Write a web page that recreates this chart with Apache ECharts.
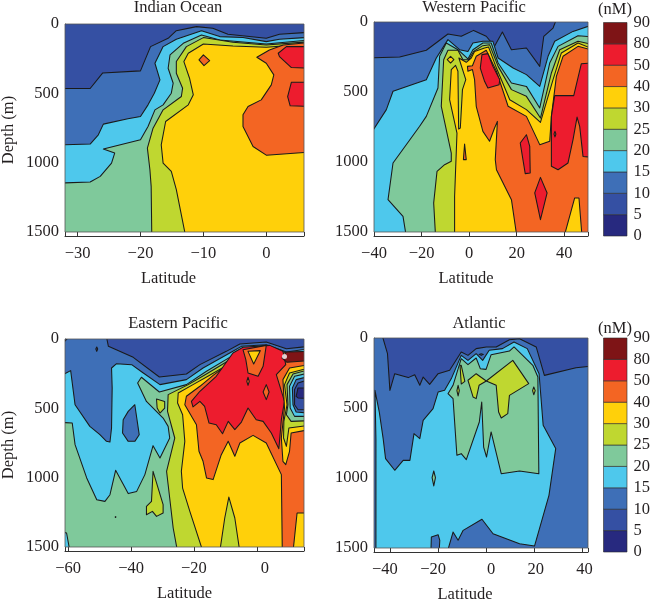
<!DOCTYPE html>
<html><head><meta charset="utf-8">
<style>html,body{margin:0;padding:0;background:#fff}#c{width:650px;height:600px}</style>
<script src="https://cdn.jsdelivr.net/npm/echarts@6/dist/echarts.min.js"></script>
</head><body><div id="c"></div>
<script>
// Band colours (lowest to highest) and colour-bar labels
const bandColors = ['#27297f','#3550a3','#3e6fb7','#4ec8ec','#7fc99b','#bfd730','#ffd00a','#f36523','#ed1c2e','#7e1416'];
const levelLabels = ['0','5','10','15','20','25','30','40','50','80','90'];
const panelTitles = ['Indian Ocean','Western Pacific','Eastern Pacific','Atlantic'];
const latTicks = [[-30,-20,-10,0],[-40,-20,0,20,40],[-60,-40,-20,0],[-40,-20,0,20,40]];
const depthTicks = [0,500,1000,1500];

// ---- Indian Ocean: contour regions [latitude, depth]
const ioBlue=[[-32,465],[-28,465],[-26,353],[-20,338],[-18.4,163],[-15.6,103],[-14.3,48],[-11.1,19],[-8.5,31],[-6.1,74],[0,103],[2.1,74],[6,60],[6,1500],[-32,1500]];
const ioCyan=[[-32,871],[-28,866],[-26.7,799],[-25.9,722],[-22,684],[-20,667],[-18.8,583],[-17.8,499],[-16.9,403],[-17.7,283],[-16.4,163],[-14.3,110],[-10.3,48],[-7.4,91],[-3.7,98],[0,127],[2.1,110],[6,96],[6,1500],[-32,1500]];
const ioGreen=[[-32,1147],[-28,1140],[-26.4,1099],[-24.6,1003],[-24.1,931],[-25.9,902],[-24.3,883],[-20,835],[-18.8,739],[-17.7,619],[-16.4,583],[-15.1,499],[-14.8,427],[-15.6,319],[-15.3,223],[-13.2,139],[-10.3,79],[-7.4,115],[0,144],[6,115],[6,1500],[-32,1500]];
const ioLime=[[-18.2,1500],[-18.3,1171],[-18.5,1051],[-18.9,895],[-18,751],[-16.4,619],[-13.5,523],[-13.3,463],[-14.3,355],[-14.3,271],[-12.7,163],[-10,98],[-5.3,132],[0,151],[6,128],[6,1500]];
const ioYellow=[[-12.8,1500],[-14.3,1195],[-15.1,1063],[-16.4,1003],[-16.7,871],[-16,703],[-12.4,583],[-11.6,511],[-12.2,391],[-13.1,271],[-12.4,211],[-10,144],[-5.3,158],[0,168],[6,144],[6,1500]];
const ioOrange=[[6,924],[0,946],[-2.1,883],[-3.7,739],[-3.7,655],[-2.9,595],[-0.8,547],[0.8,439],[1.2,367],[0,283],[-1.5,240],[0.5,187],[2.7,151],[6,134]];
const ioOrangeSpot=[[-10,223],[-9,264],[-9.9,300],[-10.7,259]];
const ioRedTop=[[6,163],[3.2,163],[1.9,211],[2.1,235],[4,314],[6,319]];
const ioRedLow=[[6,420],[4,420],[3.4,523],[3.8,590],[6,595]];

// ---- Western Pacific
const wpBlue=[[-40,257],[-29.2,250],[-18,202],[-8.9,86],[-3.3,102],[1.9,60],[7.2,102],[10.7,174],[14,71],[17.8,198],[24.1,186],[29.7,317],[31.4,102],[35.3,43],[37.1,0],[50,0],[50,1500],[-40,1500]];
const wpCyan=[[-40,817],[-34.8,626],[-32,495],[-18,412],[-13.8,257],[-8.9,126],[-4,198],[-0.5,210],[1.6,150],[5.8,138],[10,138],[12.2,257],[18.5,329],[24.1,376],[29.7,460],[33.2,245],[36,138],[43.7,67],[50,19],[50,1500],[-40,1500]];
const wpGreen=[[-26.4,1500],[-27.8,1388],[-34.1,1269],[-32,1007],[-20.8,745],[-18,674],[-13.1,471],[-12.4,245],[-9.6,150],[-4.7,198],[-0.5,264],[1.6,198],[5.8,150],[9.3,150],[12.2,293],[17.8,436],[24.1,460],[29.7,614],[33.9,293],[37.4,174],[45.8,98],[50,107],[50,1500]];
const wpLime=[[-14.1,1500],[-14.9,1293],[-13.5,1067],[-10.3,1019],[-7.5,995],[-7.5,936],[-11.7,602],[-10.7,269],[-8.9,202],[-4.7,202],[-2.6,269],[-0.2,269],[1.9,210],[5.8,169],[8.6,162],[12.2,317],[17.8,483],[24.1,531],[30,686],[34.6,364],[38.1,198],[45.8,138],[50,162],[50,1500]];
const wpYellow=[[-6.1,1500],[-6.1,1245],[-5.1,793],[-8.2,555],[-7.5,340],[-5.7,310],[-4.7,352],[-4.4,764],[-3.7,757],[-2.8,483],[-1.4,412],[-4.3,257],[-1.2,288],[0.9,257],[2.3,210],[6.5,186],[8.2,179],[11.5,329],[17.1,555],[24.1,626],[30,717],[35.3,412],[38.8,221],[45.8,150],[50,193],[50,1500]];
const wpYellowSpot=[[-7.8,245],[-6.4,269],[-7.8,293],[-9.2,269]];
const wpOrange=[[20.1,1500],[17.8,1269],[11.5,1055],[11,983],[11.9,710],[10.7,757],[8.6,852],[5.8,781],[3,602],[2.3,412],[1.4,340],[-0.5,352],[-0.7,317],[1.4,312],[3,245],[7.2,202],[11.5,352],[16.4,602],[24.1,674],[29.7,876],[33.9,852],[34.6,674],[36.7,388],[39.5,245],[45.8,174],[50,202],[50,1500]];
const wpYellowFloor=[[39.9,1500],[44.4,1257],[46.2,1257],[47.5,1500]];
const wpRedEast=[[50,293],[47.2,298],[44,526],[36,526],[34.6,674],[34.6,1031],[37.4,1055],[41.6,1007],[43.7,840],[45.4,679],[46.5,745],[47.9,960],[50,967]];
const wpRedTop=[[5.4,233],[7.9,226],[10,317],[12.9,412],[12.6,448],[7.9,471],[6.5,424],[4.7,329]];
const wpRedMid=[[24.1,805],[25.5,888],[25.7,1079],[23.6,1083],[21.5,864]];
const wpRedDeep=[[30,1110],[32.8,1221],[30,1412],[27.6,1221]];
const wpOrangeSpot=[[36.1,781],[36.5,800],[36.1,821],[35.7,800]];
const wpOrangeSliver=[[-1.9,871],[-1.2,983],[-2.4,983]];

// ---- Eastern Pacific
const epBlue=[[-61,53],[-58.9,0],[-48,0],[-47.2,53],[-39.3,132],[-31,274],[-22.4,252],[-18.1,185],[-9.7,89],[-5.4,36],[3,22],[9.4,70],[15,53],[15,1500],[-61,1500]];
const epNavySpot=[[-50.9,58],[-50.6,72],[-50.9,89],[-51.2,72]];
const epCyan=[[-61,269],[-59.2,228],[-57.8,474],[-53.1,630],[-49.9,690],[-47.8,738],[-46.7,743],[-46.2,642],[-46,353],[-46.2,209],[-44.6,178],[-39.8,185],[-36.1,245],[-30.8,329],[-22.4,293],[-17.1,209],[-8.6,101],[-4.9,53],[3,41],[9.4,94],[15,70],[15,1500],[-61,1500]];
const epBlueIsle=[[-38.8,474],[-37.4,690],[-38.8,738],[-40.9,738],[-42.7,678],[-42.5,582],[-40.9,522]];
const epGreen=[[-61,601],[-58.7,606],[-57.8,762],[-54.1,1002],[-50.9,1159],[-48.3,1171],[-46.7,1123],[-44.9,947],[-40.9,1115],[-38.2,1099],[-35.6,978],[-33,769],[-30.8,858],[-27.7,714],[-28.2,630],[-29.8,570],[-35.1,450],[-37.9,317],[-36.7,276],[-31,382],[-22.4,329],[-16,233],[-8.1,125],[-4.4,70],[3,50],[9.4,125],[15,84],[15,1500],[-59.4,1500],[-60.5,1399],[-61,1387]];
const epGreenSpeck=[[-45,1281],[-44.8,1284],[-45,1287]];
const epLime=[[-25.2,1500],[-26.6,1363],[-28.2,1051],[-28.7,954],[-26.1,714],[-28.4,522],[-28.2,401],[-21.8,329],[-15.5,245],[-7.6,137],[-3.9,77],[3,60],[9.4,185],[15,113],[15,1500]];
const epLimeUpper=[[-31.9,433],[-29.3,450],[-29.3,498],[-30.8,534],[-31.7,498]];
const epLimeLower=[[-33,954],[-29.8,1195],[-29.8,1255],[-31.9,1279],[-33.2,1243],[-35.1,1267],[-35.1,1207],[-33.5,1171]];
const epYellow=[[-17.1,1500],[-21.3,1243],[-23.6,1075],[-24,954],[-22.9,738],[-23.6,546],[-25.2,462],[-25,389],[-20.3,329],[-15,262],[-7,156],[-3.9,101],[3,70],[9.4,190],[15,125],[15,1500]];
const epLimeFloor=[[-11.8,1500],[-10.2,1291],[-8.9,1140],[-7,1291],[-5.4,1500]];
const epOrange=[[8.1,1500],[7.8,978],[3,750],[-1.2,695],[-5.4,750],[-7,846],[-9.1,738],[-11.3,834],[-13.9,1014],[-16,1002],[-17.1,882],[-18.4,810],[-19.2,618],[-22.9,474],[-22.4,413],[-18.1,341],[-13.9,262],[-6.5,137],[-3.9,77],[3,46],[9.4,101],[15,89],[15,1500]];
const epYellowFloor=[[11.5,1500],[12.8,1255],[15,1255],[15,1500]];
const epRed=[[7,791],[4.6,678],[2,594],[-0.2,582],[-2.8,498],[-4.9,599],[-7,654],[-9.1,594],[-10.9,683],[-12.9,618],[-15.2,606],[-16.6,486],[-18.1,450],[-20.3,490],[-20.8,450],[-18.1,377],[-12.9,269],[-7.6,101],[-4.4,60],[4.1,46],[8.3,89],[9.2,185],[6.2,257],[8.8,450],[7.8,582]];
const epOrangeTop=[[-4.4,77],[3,46],[2,197],[0.4,269],[-2.8,245],[-3.5,149]];
const epYellowTop=[[-2.8,89],[1.1,84],[-1,180]];
const epOrangeOvalA=[[-2.8,276],[-2.4,305],[-2.8,334],[-3.2,305]];
const epOrangeOvalB=[[3,329],[3.9,382],[3,437],[2,382]];
const epDarkRed=[[9.4,94],[15,89],[15,156],[9.6,168],[8,137]];
const epCoreYellow=[[15,185],[10.4,209],[8.3,293],[8.8,498],[7.8,714],[8.3,882],[9.2,906],[10.4,810],[10.9,678],[15,654]];
const epCoreLime=[[15,209],[10.4,245],[8.8,329],[9.6,474],[8.6,594],[8.5,714],[9.4,774],[10.2,642],[15,623]];
const epCoreGreen=[[15,221],[11.5,252],[9.6,329],[9.9,474],[9.4,546],[10.9,594],[15,589]];
const epCoreCyan=[[15,245],[12,269],[10.4,341],[10.6,498],[12,558],[15,558]];
const epCoreBlue=[[15,269],[12.5,293],[11.3,353],[11.5,474],[12.5,526],[15,534]];
const epCoreMid=[[15,293],[13.1,317],[12,365],[12,474],[13.1,510],[15,510]];
const epCoreNavy=[[15,353],[13.1,353],[12.5,413],[13.1,425],[15,430]];
const epWhiteDot=[[8.8,127]];

// ---- Atlantic
const atBlue=[[-46.6,0],[-43.5,0],[-41,112],[-40,374],[-38,255],[-32.4,283],[-29.7,262],[-27.6,338],[-26.2,279],[-23.5,331],[-20,255],[-15.2,231],[-10.4,100],[-7.6,124],[-4.2,76],[0,64],[4.1,64],[9.6,12],[13.8,5],[20.7,64],[24.1,267],[37.2,212],[42.2,200],[42.2,1500],[-46.6,1500]];
const atCyan=[[-45.8,1500],[-45.8,719],[-46.2,374],[-44.4,529],[-42.8,719],[-41.8,862],[-38,945],[-34.5,874],[-31.7,874],[-30,683],[-27.6,719],[-26.2,588],[-22.1,505],[-20,386],[-17.3,374],[-14.5,290],[-10.4,124],[-7.6,160],[-4.2,112],[-1.5,160],[1.2,88],[6.7,76],[11.5,29],[17,76],[21.9,255],[23.6,624],[28.8,790],[26,1124],[20,1486],[13.8,1469],[2.8,1398],[-1.8,1295],[-9.6,1374],[-11.7,1445],[-13.8,1386],[-16.3,1500]];
const atBlueIsle=[[-23,1500],[-22.8,1421],[-20,1405],[-19.3,1445],[-19.6,1500]];
const atBlueSpot=[[-2.1,112],[-1.2,117],[-2.1,124],[-3,117]];
const atGreen=[[-15.9,398],[-13.8,338],[-10.4,148],[-7.6,190],[-4.2,143],[-2.5,219],[-0.1,224],[2,119],[9.6,93],[11.5,64],[19.3,195],[21.4,279],[21.8,969],[13.8,950],[6.2,969],[2,671],[0.1,850],[-1.1,779],[-1.9,457],[-2.9,600],[-8.3,869],[-10.4,826],[-12.2,838],[-13.8,433]];
const atGreenSpot=[[-21.8,950],[-21.1,998],[-21.8,1057],[-22.5,998]];
const atLimeEast=[[0,307],[11,160],[17.6,326],[9.6,410],[8.9,540],[6.2,571],[5.1,529],[4.1,338]];
const atLimeMid=[[-4.2,255],[0,307],[-3,338],[-4.2,433],[-5.5,421],[-7.6,302]];
const atLimeFinger=[[-10.4,195],[-8.9,310],[-10.4,329],[-10.9,195]];
const atLimeSpotA=[[-11.7,338],[-11.2,376],[-11.7,414],[-12.2,376]];
const atLimeSpotB=[[19.7,350],[20.3,376],[19.7,405],[19.2,376]];

// Paint order: [colour index, region]
const layers = [
 [[2,ioBlue],[3,ioCyan],[4,ioGreen],[5,ioLime],[6,ioYellow],[7,ioOrange],[7,ioOrangeSpot],[8,ioRedTop],[8,ioRedLow]],
 [[2,wpBlue],[3,wpCyan],[4,wpGreen],[5,wpLime],[6,wpYellow],[6,wpYellowSpot],[7,wpOrange],[6,wpYellowFloor],[8,wpRedEast],[8,wpRedTop],[8,wpRedMid],[8,wpRedDeep],[7,wpOrangeSpot],[7,wpOrangeSliver]],
 [[2,epBlue],[1,epNavySpot],[3,epCyan],[2,epBlueIsle],[4,epGreen],[4,epGreenSpeck],[5,epLime],[5,epLimeUpper],[5,epLimeLower],[6,epYellow],[5,epLimeFloor],[7,epOrange],[6,epYellowFloor],[8,epRed],[7,epOrangeTop],[6,epYellowTop],[7,epOrangeOvalA],[7,epOrangeOvalB],[9,epDarkRed],[6,epCoreYellow],[5,epCoreLime],[4,epCoreGreen],[3,epCoreCyan],[2,epCoreBlue],[1,epCoreMid],[0,epCoreNavy]],
 [[2,atBlue],[3,atCyan],[2,atBlueIsle],[2,atBlueSpot],[4,atGreen],[4,atGreenSpot],[5,atLimeEast],[5,atLimeMid],[5,atLimeFinger],[5,atLimeSpotA],[5,atLimeSpotB]]
];
const latRange = [[-32,6],[-40,50],[-61,15],[-46.6,42.2]];
const boxes = [{left:65,top:24,width:239,height:208},{left:374,top:22,width:214,height:210},{left:65,top:339,width:239,height:208},{left:374,top:338,width:214,height:210}];
const barBoxes = [{left:603.5,top:22.5,width:23.5,height:213.5},{left:603.5,top:338,width:23.5,height:214}];
const labelShift = [{}, {}, {0:8}, {'-40':-5,'-20':-5,0:4.7,20:1.3,40:1.7}];
const nameShift = [32,30,0,32];
const FONT='"Liberation Serif"', INK='#231f20', FS=16.5;
const DEPTH_MAX=1500;

const minus = v => String(v).replace('-','\u2212');
const grid=[], xAxis=[], yAxis=[], series=[], title=[];
panelTitles.forEach((t,p)=>{
  const b=boxes[p], [x0,x1]=latRange[p];
  grid.push({...b,containLabel:false,outerBoundsMode:'none'});
  title.push({text:t,left:[173,469,173,474][p],top:[-6,-6,310,310][p],textAlign:'center',
    textStyle:{fontFamily:FONT,fontSize:FS,fontWeight:'normal',color:INK}});
  const rich={};
  latTicks[p].forEach((v,i)=>{const s=labelShift[p][v]||0;
    rich['t'+i]={fontFamily:FONT,fontSize:FS,color:INK,padding:[0,s<0?-2*s:0,0,s>0?2*s:0]};});
  xAxis.push({gridIndex:p,type:'value',min:x0,max:x1,offset:4,
    axisLine:{show:true,onZero:false,lineStyle:{color:'#333',width:1}},
    axisTick:{show:true,inside:true,length:4,customValues:[x0,...latTicks[p],x1],lineStyle:{color:'#333',width:1}},
    axisLabel:{customValues:latTicks[p],margin:9,hideOverlap:false,
      formatter:v=>`{t${latTicks[p].indexOf(v)}|${minus(v)}}`,rich},
    splitLine:{show:false},
    name:'Latitude',nameLocation:'middle',nameGap:34,
    nameTextStyle:{fontFamily:FONT,fontSize:FS,color:INK,padding:[0,nameShift[p],0,0]}});
  yAxis.push({gridIndex:p,type:'value',inverse:true,min:0,max:DEPTH_MAX,interval:500,
    axisLine:{show:true,onZero:false,lineStyle:{color:'#555',width:1}},axisTick:{show:false},splitLine:{show:false},
    axisLabel:{margin:6,fontFamily:FONT,fontSize:FS,color:INK,formatter:v=>String(v)},
    name:p%2===0?'Depth (m)':'',nameLocation:'middle',nameGap:48,
    nameTextStyle:{fontFamily:FONT,fontSize:FS,color:INK,padding:[0,4,0,0]}});
  const lay=layers[p];
  series.push({type:'custom',coordinateSystem:'cartesian2d',xAxisIndex:p,yAxisIndex:p,clip:true,silent:true,animation:false,
    data:[[x0,0,-1]].concat(lay.map((l,i)=>[l[1][0][0],l[1][0][1],i])),encode:{x:0,y:1},
    renderItem:(params,api)=>{
      const i=api.value(2);
      if(i<0){ // whole section: the 5-10 nM band underneath everything
        const a=api.coord([x0,0]),c=api.coord([x1,DEPTH_MAX]);
        return {type:'rect',shape:{x:a[0],y:a[1],width:c[0]-a[0],height:c[1]-a[1]},style:{fill:bandColors[1]}};
      }
      const pts=lay[i][1].map(q=>{
        const c=api.coord(q);
        if(q[0]<=x0)c[0]-=5; if(q[0]>=x1)c[0]+=5;
        if(q[1]<=0)c[1]-=5; if(q[1]>=DEPTH_MAX)c[1]+=5;
        return c;});
      return {type:'polygon',shape:{points:pts},style:{fill:bandColors[lay[i][0]],stroke:'#1a1a1a',lineWidth:1.05,lineJoin:'round'}};
    }});
  // Frame of the section
  series.push({type:'custom',coordinateSystem:'cartesian2d',xAxisIndex:p,yAxisIndex:p,clip:false,silent:true,animation:false,z:5,
    data:[[x0,0]],encode:{x:0,y:1},
    renderItem:(params,api)=>{
      const a=api.coord([x0,0]),c=api.coord([x1,DEPTH_MAX]);
      return {type:'rect',shape:{x:a[0],y:a[1],width:c[0]-a[0],height:c[1]-a[1]},style:{fill:null,stroke:'#555',lineWidth:0.8}};
    }});
});
// White dot of the Eastern Pacific
series.push({type:'scatter',xAxisIndex:2,yAxisIndex:2,silent:true,animation:false,z:6,symbolSize:5,
  itemStyle:{color:'#fff'},data:epWhiteDot});
// Colour bars
barBoxes.forEach((b,k)=>{
  const g=4+k;
  grid.push({...b,outerBoundsMode:'none'});
  xAxis.push({gridIndex:g,type:'value',min:0,max:1,show:false});
  yAxis.push({gridIndex:g,type:'value',min:0,max:bandColors.length,interval:1,position:'right',
    axisLine:{show:false},axisTick:{show:false},splitLine:{show:false},
    axisLabel:{margin:6.5,fontFamily:FONT,fontSize:FS,color:INK,formatter:v=>levelLabels[v]}});
  series.push({type:'custom',coordinateSystem:'cartesian2d',xAxisIndex:g,yAxisIndex:g,silent:true,animation:false,
    data:bandColors.map((c,i)=>[0,i]),encode:{x:0,y:1},
    renderItem:(params,api)=>{
      const i=api.value(1),a=api.coord([0,i+1]),c=api.coord([1,i]);
      return {type:'rect',shape:{x:a[0],y:a[1],width:c[0]-a[0],height:c[1]-a[1]},
        style:{fill:bandColors[i],stroke:'#2a2a2a',lineWidth:0.6}};
    }});
  title.push({text:'(nM)',left:610,top:[-4,315][k],textAlign:'center',
    textStyle:{fontFamily:FONT,fontSize:FS,fontWeight:'normal',color:INK}});
});
const chart=echarts.init(document.getElementById('c'),null,{renderer:'canvas'});
chart.setOption({animation:false,backgroundColor:'#fff',title,grid,xAxis,yAxis,series});
</script></body></html>
